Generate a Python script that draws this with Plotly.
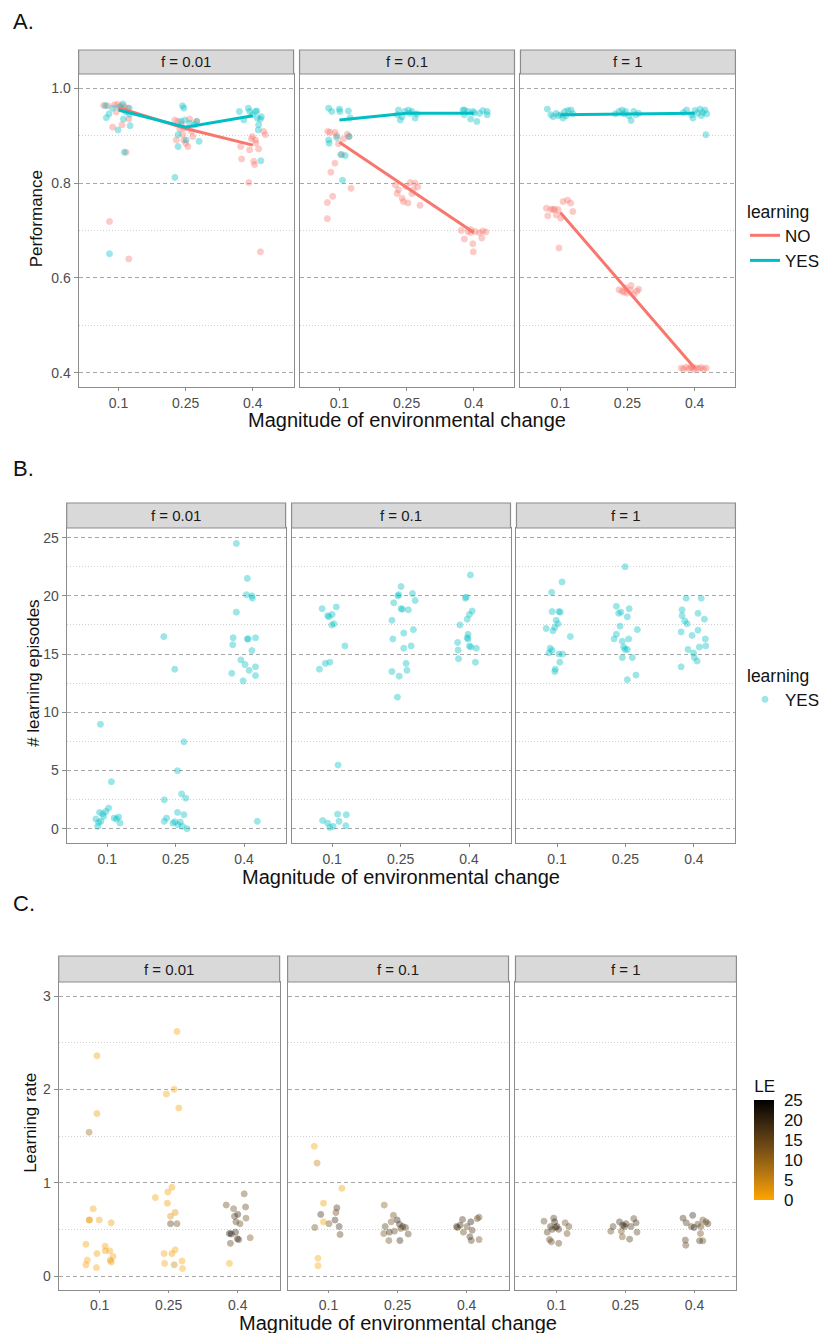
import plotly.graph_objects as go

# The page's default 8px body margin is removed (see write_html below), so the
# figure fills the whole window; positions below are given in window pixels.
OFF = 0
W, H = 825 - OFF, 1333 - OFF
FONT = "Liberation Sans, Arial, sans-serif"

facets = ["f = 0.01", "f = 0.1", "f = 1"]
mag_ticks = [0.1, 0.25, 0.4]
mag_labels = ["0.1", "0.25", "0.4"]
x_title = "Magnitude of environmental change"

# ---------------- Panel A: Performance (jittered magnitude, performance) ----------------
# f = 0.01
perfA_no_x_f001 = [0.067, 0.076, 0.091, 0.098, 0.106, 0.121, 0.113, 0.087, 0.108, 0.123, 0.117, 0.080, 0.123, 0.110, 0.095,
                   0.226, 0.233, 0.240, 0.246, 0.250, 0.255, 0.259, 0.263, 0.274, 0.229, 0.237, 0.243, 0.266, 0.248,
                   0.373, 0.375, 0.391, 0.393, 0.399, 0.402, 0.404, 0.407, 0.413, 0.417, 0.424, 0.428, 0.397, 0.406]
perfA_no_y_f001 = [0.964, 0.963, 0.965, 0.966, 0.963, 0.958, 0.961, 0.918, 0.923, 0.935, 0.865, 0.719, 0.640, 0.955, 0.950,
                   0.933, 0.930, 0.923, 0.891, 0.884, 0.877, 0.935, 0.909, 0.930, 0.891, 0.914, 0.903, 0.898, 0.916,
                   0.877, 0.851, 0.801, 0.870, 0.898, 0.846, 0.839, 0.884, 0.872, 0.655, 0.909, 0.902, 0.893, 0.891]
perfA_yes_x_f001 = [0.071, 0.079, 0.073, 0.099, 0.111, 0.110, 0.124, 0.126, 0.113, 0.080, 0.117, 0.102, 0.087, 0.125,
                    0.226, 0.233, 0.233, 0.243, 0.246, 0.248, 0.251, 0.259, 0.270, 0.280, 0.240, 0.275,
                    0.370, 0.380, 0.390, 0.393, 0.406, 0.409, 0.410, 0.412, 0.413, 0.417, 0.419, 0.418, 0.399]
perfA_yes_y_f001 = [0.963, 0.946, 0.938, 0.912, 0.935, 0.967, 0.958, 0.921, 0.865, 0.651, 0.950, 0.960, 0.958, 0.945,
                    0.812, 0.902, 0.877, 0.963, 0.958, 0.933, 0.891, 0.926, 0.923, 0.888, 0.930, 0.930,
                    0.951, 0.933, 0.958, 0.951, 0.951, 0.952, 0.937, 0.912, 0.923, 0.935, 0.940, 0.847, 0.944]
# f = 0.1
perfA_no_x_f01 = [0.074, 0.079, 0.090, 0.094, 0.098, 0.109, 0.118, 0.121, 0.090, 0.081, 0.085, 0.073, 0.073, 0.126, 0.105,
                  0.225, 0.232, 0.229, 0.240, 0.243, 0.253, 0.248, 0.258, 0.262, 0.269, 0.275, 0.280, 0.265,
                  0.372, 0.379, 0.387, 0.394, 0.398, 0.399, 0.403, 0.413, 0.418, 0.427, 0.393, 0.420]
perfA_no_y_f01 = [0.909, 0.907, 0.907, 0.900, 0.883, 0.893, 0.903, 0.898, 0.842, 0.823, 0.772, 0.759, 0.725, 0.789, 0.860,
                  0.796, 0.786, 0.778, 0.768, 0.761, 0.758, 0.793, 0.801, 0.778, 0.800, 0.792, 0.753, 0.786,
                  0.700, 0.682, 0.698, 0.696, 0.672, 0.655, 0.698, 0.695, 0.684, 0.697, 0.702, 0.699]
perfA_yes_x_f01 = [0.076, 0.083, 0.100, 0.120, 0.124, 0.076, 0.077, 0.094, 0.103, 0.113, 0.107, 0.122, 0.101,
                   0.232, 0.236, 0.240, 0.246, 0.254, 0.262, 0.269, 0.273, 0.229, 0.258,
                   0.376, 0.379, 0.387, 0.393, 0.398, 0.407, 0.413, 0.420, 0.430, 0.430, 0.379, 0.401]
perfA_yes_y_f01 = [0.958, 0.951, 0.956, 0.952, 0.938, 0.891, 0.884, 0.896, 0.860, 0.858, 0.806, 0.898, 0.951,
                   0.954, 0.933, 0.940, 0.951, 0.954, 0.951, 0.937, 0.946, 0.944, 0.947,
                   0.954, 0.944, 0.951, 0.935, 0.951, 0.930, 0.947, 0.953, 0.944, 0.951, 0.954, 0.948]
# f = 1
perfA_no_x_f1 = [0.069, 0.072, 0.079, 0.084, 0.091, 0.095, 0.101, 0.106, 0.116, 0.123, 0.128, 0.097, 0.087,
                 0.231, 0.238, 0.246, 0.249, 0.258, 0.264, 0.271, 0.275, 0.242, 0.257,
                 0.370, 0.375, 0.381, 0.387, 0.392, 0.398, 0.403, 0.409, 0.414, 0.420, 0.426, 0.396]
perfA_no_y_f1 = [0.747, 0.731, 0.745, 0.744, 0.733, 0.744, 0.726, 0.761, 0.764, 0.758, 0.740, 0.663, 0.745,
                 0.575, 0.572, 0.579, 0.568, 0.584, 0.565, 0.572, 0.576, 0.570, 0.574,
                 0.410, 0.408, 0.412, 0.409, 0.411, 0.407, 0.410, 0.409, 0.411, 0.408, 0.410, 0.412]
perfA_yes_x_f1 = [0.071, 0.079, 0.084, 0.091, 0.102, 0.106, 0.110, 0.117, 0.124, 0.128, 0.113, 0.095,
                  0.223, 0.231, 0.238, 0.246, 0.258, 0.264, 0.268, 0.275, 0.242, 0.253,
                  0.375, 0.382, 0.393, 0.401, 0.406, 0.412, 0.415, 0.423, 0.427, 0.425, 0.396, 0.418]
perfA_yes_y_f1 = [0.956, 0.944, 0.940, 0.947, 0.944, 0.937, 0.951, 0.953, 0.954, 0.946, 0.942, 0.942,
                  0.946, 0.951, 0.954, 0.951, 0.932, 0.951, 0.944, 0.947, 0.946, 0.942,
                  0.949, 0.954, 0.944, 0.953, 0.947, 0.956, 0.942, 0.954, 0.946, 0.902, 0.937, 0.949]
# mean performance lines (at magnitudes 0.1, 0.25, 0.4)
mean_no_f001 = [0.959, 0.915, 0.880]
mean_yes_f001 = [0.954, 0.918, 0.942]
mean_no_f01 = [0.886, 0.791, 0.696]
mean_yes_f01 = [0.933, 0.947, 0.947]
mean_no_f1 = [0.738, 0.575, 0.410]
mean_yes_f1 = [0.944, 0.946, 0.947]

# ---------------- Panel B: # learning episodes ----------------
leB_x_f001 = [0.085, 0.109, 0.103, 0.083, 0.090, 0.097, 0.075, 0.081, 0.079, 0.086, 0.115, 0.120, 0.128, 0.125, 0.092,
              0.224, 0.248, 0.268, 0.254, 0.263, 0.272, 0.225, 0.254, 0.268, 0.230, 0.225, 0.244, 0.255, 0.260, 0.275, 0.265, 0.248,
              0.383, 0.407, 0.405, 0.417, 0.418, 0.383, 0.376, 0.375, 0.407, 0.409, 0.425, 0.417, 0.393, 0.402, 0.411, 0.425, 0.373, 0.425, 0.398, 0.429]
leB_y_f001 = [8.97, 4.04, 1.77, 1.40, 1.28, 1.48, 0.83, 0.54, 0.20, 0.63, 0.91, 0.83, 0.48, 1.00, 1.05,
              16.5, 13.7, 7.46, 4.98, 2.99, 2.62, 2.48, 1.40, 1.20, 0.91, 0.63, 0.48, 0.34, 0.57, 0.00, 0.20, 0.60,
              24.5, 21.5, 20.1, 20.0, 19.8, 18.6, 16.4, 15.8, 16.3, 16.3, 16.4, 15.3, 14.5, 14.1, 13.6, 13.9, 13.35, 13.15, 12.7, 0.63]
leB_x_f01 = [0.078, 0.109, 0.090, 0.100, 0.093, 0.099, 0.104, 0.128, 0.072, 0.085, 0.095, 0.113, 0.079, 0.090, 0.095, 0.102, 0.112, 0.131, 0.115, 0.130,
             0.251, 0.246, 0.244, 0.235, 0.276, 0.282, 0.251, 0.254, 0.267, 0.231, 0.257, 0.278, 0.233, 0.257, 0.273, 0.262, 0.231, 0.264, 0.247, 0.243,
             0.403, 0.392, 0.394, 0.407, 0.401, 0.396, 0.380, 0.398, 0.396, 0.398, 0.401, 0.416, 0.375, 0.376, 0.377, 0.414, 0.404]
leB_y_f01 = [18.9, 19.05, 18.3, 18.4, 18.2, 17.5, 17.6, 15.7, 13.7, 14.2, 14.3, 5.47, 0.71, 0.48, 0.11, 0.20, 1.25, 1.20, 0.63, 0.26,
             20.8, 20.1, 20.0, 19.4, 20.2, 19.6, 18.9, 18.85, 18.8, 17.9, 16.8, 17.1, 16.3, 15.5, 15.7, 14.2, 13.5, 13.6, 13.1, 11.3,
             21.8, 19.8, 19.9, 18.7, 18.4, 18.0, 17.5, 16.7, 16.4, 16.3, 15.7, 15.5, 16.0, 15.35, 14.6, 14.3, 15.6]
leB_x_f1 = [0.111, 0.088, 0.089, 0.104, 0.107, 0.098, 0.102, 0.095, 0.076, 0.091, 0.129, 0.085, 0.082, 0.104, 0.112, 0.106, 0.096, 0.095, 0.089,
            0.249, 0.230, 0.258, 0.235, 0.240, 0.254, 0.238, 0.276, 0.230, 0.225, 0.257, 0.243, 0.249, 0.254, 0.243, 0.265, 0.254, 0.273, 0.246,
            0.383, 0.416, 0.374, 0.409, 0.374, 0.380, 0.385, 0.423, 0.372, 0.409, 0.396, 0.425, 0.387, 0.399, 0.412, 0.426, 0.401, 0.407, 0.372]
leB_y_f1 = [21.2, 20.3, 18.65, 18.65, 18.6, 17.9, 17.6, 17.3, 17.2, 17.0, 16.5, 15.5, 15.1, 15.0, 15.0, 14.3, 13.7, 13.5, 15.3,
            22.5, 19.1, 18.9, 18.5, 18.6, 18.2, 17.4, 17.1, 16.7, 16.3, 16.3, 16.1, 15.4, 15.4, 14.7, 14.7, 12.8, 13.2, 15.6,
            19.8, 19.8, 18.8, 18.5, 18.3, 17.85, 17.6, 18.0, 16.9, 17.05, 16.6, 16.3, 15.4, 15.1, 15.6, 15.7, 14.7, 14.4, 13.9]

# ---------------- Panel C: learning rate, coloured by LE ----------------
lrC_x_f001 = [0.094, 0.094, 0.077, 0.086, 0.077, 0.078, 0.099, 0.125, 0.070, 0.094, 0.112, 0.112, 0.122, 0.129, 0.073, 0.070, 0.093, 0.123, 0.125,
              0.268, 0.245, 0.262, 0.272, 0.257, 0.248, 0.221, 0.247, 0.264, 0.254, 0.254, 0.268, 0.240, 0.257, 0.264, 0.241, 0.262, 0.279, 0.280,
              0.375, 0.391, 0.414, 0.417, 0.393, 0.400, 0.405, 0.418, 0.396, 0.382, 0.386, 0.395, 0.399, 0.384, 0.402, 0.427, 0.382]
lrC_y_f001 = [2.36, 1.74, 1.54, 0.72, 0.60, 0.60, 0.60, 0.57, 0.34, 0.24, 0.32, 0.27, 0.27, 0.21, 0.17, 0.12, 0.09, 0.17, 0.15,
              2.62, 1.95, 2.00, 1.80, 0.95, 0.90, 0.84, 0.78, 0.68, 0.64, 0.56, 0.56, 0.24, 0.24, 0.28, 0.135, 0.12, 0.16, 0.08,
              0.76, 0.72, 0.88, 0.74, 0.64, 0.66, 0.56, 0.62, 0.58, 0.455, 0.45, 0.47, 0.40, 0.35, 0.39, 0.41, 0.135]
lrC_le_f001 = [0.8, 1.3, 9.0, 0.5, 1.5, 1.8, 0.9, 1.2, 0.7, 0.8, 0.6, 1.0, 0.4, 0.6, 0.3, 0.5, 0.2, 1.8, 1.6,
               0.5, 0.6, 0.3, 0.4, 1.2, 0.9, 0.7, 1.4, 2.5, 2.8, 16.5, 13.7, 0.6, 1.0, 0.4, 0.5, 5.0, 0.2, 0.0,
               14.1, 13.6, 13.9, 15.3, 16.4, 19.8, 14.5, 13.15, 16.3, 24.5, 21.5, 20.1, 18.6, 15.8, 20.0, 12.7, 0.63]
lrC_x_f01 = [0.069, 0.075, 0.129, 0.089, 0.118, 0.083, 0.116, 0.114, 0.089, 0.101, 0.070, 0.123, 0.125, 0.077, 0.077,
             0.221, 0.241, 0.236, 0.249, 0.223, 0.254, 0.261, 0.267, 0.220, 0.232, 0.243, 0.273, 0.231, 0.255, 0.257,
             0.378, 0.386, 0.391, 0.401, 0.409, 0.412, 0.423, 0.427, 0.407, 0.410, 0.427, 0.393, 0.380]
lrC_y_f01 = [1.39, 1.21, 0.94, 0.78, 0.73, 0.66, 0.68, 0.60, 0.58, 0.56, 0.52, 0.53, 0.445, 0.19, 0.11,
             0.76, 0.65, 0.58, 0.60, 0.53, 0.555, 0.53, 0.52, 0.455, 0.47, 0.48, 0.45, 0.38, 0.38, 0.51,
             0.53, 0.545, 0.605, 0.53, 0.58, 0.49, 0.615, 0.63, 0.42, 0.38, 0.39, 0.47, 0.52]
lrC_le_f01 = [0.5, 5.5, 1.2, 1.25, 17.6, 18.9, 14.3, 19.05, 0.7, 14.2, 13.7, 18.3, 15.7, 0.2, 0.1,
              11.3, 14.2, 13.5, 20.8, 16.3, 18.9, 20.1, 17.1, 13.1, 19.4, 15.5, 16.8, 13.6, 20.0, 15.7,
              16.0, 19.8, 18.4, 16.4, 21.8, 17.5, 15.5, 14.6, 18.7, 16.7, 14.3, 15.35, 18.0]
lrC_x_f1 = [0.073, 0.094, 0.096, 0.087, 0.101, 0.105, 0.119, 0.127, 0.123, 0.091, 0.085, 0.089, 0.105, 0.080, 0.098,
            0.223, 0.218, 0.237, 0.244, 0.248, 0.251, 0.268, 0.262, 0.275, 0.241, 0.243, 0.259, 0.273,
            0.375, 0.396, 0.382, 0.393, 0.399, 0.407, 0.418, 0.425, 0.429, 0.414, 0.413, 0.380, 0.381, 0.418, 0.411]
lrC_y_f1 = [0.587, 0.62, 0.58, 0.53, 0.53, 0.50, 0.57, 0.53, 0.455, 0.50, 0.39, 0.367, 0.35, 0.47, 0.52,
            0.53, 0.48, 0.58, 0.545, 0.53, 0.56, 0.615, 0.53, 0.47, 0.48, 0.42, 0.395, 0.57,
            0.62, 0.65, 0.57, 0.53, 0.52, 0.555, 0.60, 0.58, 0.56, 0.53, 0.455, 0.385, 0.33, 0.377, 0.377]
lrC_le_f1 = [15.0, 17.6, 20.3, 18.65, 21.2, 17.9, 13.5, 15.3, 14.3, 17.2, 16.5, 15.1, 15.5, 17.0, 18.6,
             16.3, 14.7, 18.5, 22.5, 19.1, 18.9, 16.1, 17.4, 15.4, 13.2, 12.8, 16.7, 18.2,
             18.3, 19.8, 17.6, 16.6, 21.0, 15.6, 14.4, 16.3, 17.05, 15.7, 13.9, 16.9, 15.4, 14.7, 18.0]

# ---------------- styling ----------------
RED = "#F8766D"
TEAL = "#00BFC4"
LE_SCALE = [[0.0, "#FFA500"], [0.25, "rgb(186,121,17)"], [0.5, "rgb(121,80,20)"],
            [0.75, "rgb(61,42,16)"], [1.0, "#000000"]]
ALPHA = 0.38
GRID_MAJOR = "#A8A8A8"
GRID_MINOR = "#D0D0D0"
BORDER = "#8C8C8C"
TICKCOL = "#4D4D4D"
TICK_SIZE = 14


def px(xp):
    return (xp - OFF) / W


def py(yp):
    return 1 - (yp - OFF) / H


rows = [
    dict(panel=(74, 387), strip=(50, 74), cols=[(79, 295), (301, 517), (523, 739)],
         yrange=[0.37, 1.03], major=[0.4, 0.6, 0.8, 1.0], labels=["0.4", "0.6", "0.8", "1.0"],
         minor=[0.5, 0.7, 0.9], ytitle="Performance", ytitle_x=37, tag="A.", tag_y=22, xtitle_y=420, xticklen=3),
    dict(panel=(528, 843), strip=(503, 528), cols=[(67, 287), (293, 513), (519, 739)],
         yrange=[-1.23, 25.83], major=[0, 5, 10, 15, 20, 25], labels=["0", "5", "10", "15", "20", "25"],
         minor=[2.5, 7.5, 12.5, 17.5, 22.5], ytitle="# learning episodes", ytitle_x=33, tag="B.", tag_y=469, xtitle_y=877,
         xticklen=3),
    dict(panel=(982, 1290), strip=(956, 982), cols=[(59, 281), (289, 511), (518, 740)],
         yrange=[-0.15, 3.15], major=[0, 1, 2, 3], labels=["0", "1", "2", "3"],
         minor=[0.5, 1.5, 2.5], ytitle="Learning rate", ytitle_x=30, tag="C.", tag_y=904, xtitle_y=1323, xticklen=2),
]

fig = go.Figure()
layout = dict(width=W, height=H, margin=dict(l=0, r=0, t=0, b=0), autosize=False,
              paper_bgcolor="white", plot_bgcolor="white",
              font=dict(family=FONT, color="#1A1A1A"), showlegend=True)
shapes, annotations = [], []

for r, row in enumerate(rows):
    for c, (x0, x1) in enumerate(row["cols"]):
        n = r * 3 + c + 1
        suf = "" if n == 1 else str(n)
        layout["xaxis" + suf] = dict(
            domain=[px(x0), px(x1)], range=[0.011, 0.491], anchor="y" + suf,
            tickvals=mag_ticks, ticktext=mag_labels, ticks="outside", ticklen=row["xticklen"],
            tickcolor=BORDER, tickfont=dict(size=TICK_SIZE, color=TICKCOL, family=FONT),
            showgrid=False, zeroline=False, showline=True, mirror=True,
            linecolor=BORDER, linewidth=1.2)
        layout["yaxis" + suf] = dict(
            domain=[py(row["panel"][1]), py(row["panel"][0])], range=row["yrange"], anchor="x" + suf,
            tickvals=row["major"], ticktext=row["labels"], showticklabels=(c == 0),
            ticks="outside" if c == 0 else "", ticklen=4, tickcolor=BORDER,
            tickfont=dict(size=TICK_SIZE, color=TICKCOL, family=FONT),
            showgrid=True, gridcolor=GRID_MAJOR, griddash="4px,3px", gridwidth=1,
            minor=dict(tickvals=row["minor"], showgrid=True, gridcolor=GRID_MINOR,
                       griddash="1px,2px", gridwidth=1, ticks=""),
            zeroline=False, showline=True, mirror=True, linecolor=BORDER, linewidth=1.2)
        # facet strip
        s0, s1 = row["strip"]
        shapes.append(dict(type="rect", xref="paper", yref="paper",
                           x0=px(x0), x1=px(x1), y0=py(s1), y1=py(s0),
                           fillcolor="#D9D9D9", line=dict(color=BORDER, width=1.2), layer="above"))
        annotations.append(dict(text=facets[c], xref="paper", yref="paper",
                                x=px((x0 + x1) / 2), y=py((s0 + s1) / 2), showarrow=False,
                                xanchor="center", yanchor="middle",
                                font=dict(size=15, color="#1A1A1A", family=FONT)))
    # titles
    left = row["cols"][0][0]
    right = row["cols"][2][1]
    annotations.append(dict(text=x_title, xref="paper", yref="paper",
                            x=px((left + right) / 2), y=py(row["xtitle_y"]), showarrow=False,
                            xanchor="center", yanchor="middle",
                            font=dict(size=20, color="#111111", family=FONT)))
    annotations.append(dict(text=row["ytitle"], xref="paper", yref="paper", textangle=-90,
                            x=px(row["ytitle_x"]), y=py((row["strip"][0] + row["panel"][1]) / 2),
                            showarrow=False, xanchor="center", yanchor="middle",
                            font=dict(size=17, color="#111111", family=FONT)))
    annotations.append(dict(text=row["tag"], xref="paper", yref="paper",
                            x=px(11), y=py(row["tag_y"]), showarrow=False,
                            xanchor="left", yanchor="middle",
                            font=dict(size=22, color="#111111", family=FONT)))


def pts(x, y, color, xa, ya, name, legend="legend", show=False):
    return go.Scatter(x=x, y=y, mode="markers", name=name, xaxis=xa, yaxis=ya,
                      showlegend=show, legend=legend, hoverinfo="skip",
                      marker=dict(size=6, color=color, opacity=ALPHA,
                                  line=dict(width=1, color=color)))


# Panel A
A_sets = [(perfA_no_x_f001, perfA_no_y_f001, perfA_yes_x_f001, perfA_yes_y_f001, mean_no_f001, mean_yes_f001),
          (perfA_no_x_f01, perfA_no_y_f01, perfA_yes_x_f01, perfA_yes_y_f01, mean_no_f01, mean_yes_f01),
          (perfA_no_x_f1, perfA_no_y_f1, perfA_yes_x_f1, perfA_yes_y_f1, mean_no_f1, mean_yes_f1)]
for c, (nx, ny, yx, yy, mn, my) in enumerate(A_sets):
    n = c + 1
    xa, ya = "x" + ("" if n == 1 else str(n)), "y" + ("" if n == 1 else str(n))
    fig.add_trace(pts(nx, ny, RED, xa, ya, "NO"))
    fig.add_trace(pts(yx, yy, TEAL, xa, ya, "YES"))
for c, (nx, ny, yx, yy, mn, my) in enumerate(A_sets):
    n = c + 1
    xa, ya = "x" + ("" if n == 1 else str(n)), "y" + ("" if n == 1 else str(n))
    fig.add_trace(go.Scatter(x=mag_ticks, y=mn, mode="lines", name="NO", xaxis=xa, yaxis=ya,
                             line=dict(color=RED, width=3), showlegend=(c == 0), legend="legend",
                             hoverinfo="skip"))
    fig.add_trace(go.Scatter(x=mag_ticks, y=my, mode="lines", name="YES", xaxis=xa, yaxis=ya,
                             line=dict(color=TEAL, width=3), showlegend=(c == 0), legend="legend",
                             hoverinfo="skip"))

# Panel B
B_sets = [(leB_x_f001, leB_y_f001), (leB_x_f01, leB_y_f01), (leB_x_f1, leB_y_f1)]
for c, (bx, by) in enumerate(B_sets):
    n = 3 + c + 1
    fig.add_trace(pts(bx, by, TEAL, "x%d" % n, "y%d" % n, "YES", legend="legend2", show=(c == 0)))

# Panel C
C_sets = [(lrC_x_f001, lrC_y_f001, lrC_le_f001), (lrC_x_f01, lrC_y_f01, lrC_le_f01),
          (lrC_x_f1, lrC_y_f1, lrC_le_f1)]
for c, (cx, cy, cle) in enumerate(C_sets):
    n = 6 + c + 1
    fig.add_trace(go.Scatter(x=cx, y=cy, mode="markers", xaxis="x%d" % n, yaxis="y%d" % n,
                             showlegend=False, hoverinfo="skip",
                             marker=dict(size=6, color=cle, coloraxis="coloraxis", opacity=0.38,
                                         line=dict(width=1, color=cle, coloraxis="coloraxis"))))

layout["coloraxis"] = dict(
    cmin=0, cmax=25, colorscale=LE_SCALE,
    colorbar=dict(title=dict(text="LE", side="top", font=dict(size=17, color="#111111", family=FONT)),
                  x=px(758), xanchor="left", xpad=0, y=py(1138), yanchor="middle", ypad=0,
                  lenmode="pixels", len=124, thicknessmode="pixels", thickness=20,
                  tickvals=[0, 5, 10, 15, 20, 25], ticktext=["0", "5", "10", "15", "20", "25"],
                  ticks="outside", ticklen=7, tickcolor="rgba(0,0,0,0)",
                  tickfont=dict(size=17, color="#111111", family=FONT), outlinewidth=0))

legend_common = dict(xanchor="left", yanchor="top", bgcolor="rgba(0,0,0,0)", borderwidth=0,
                     font=dict(size=17, color="#111111", family=FONT), itemclick=False,
                     itemdoubleclick=False, traceorder="normal")
layout["legend"] = dict(x=px(749), y=py(195), title=dict(text="learning", font=dict(size=17.5, family=FONT)),
                        **legend_common)
layout["legend2"] = dict(x=px(749), y=py(659), title=dict(text="learning", font=dict(size=17.5, family=FONT)),
                         **legend_common)
layout["shapes"] = shapes
layout["annotations"] = annotations
fig.update_layout(**layout)

fig.write_html("out.html", config={"displayModeBar": False},
               post_script="document.body.style.margin='0px';")
